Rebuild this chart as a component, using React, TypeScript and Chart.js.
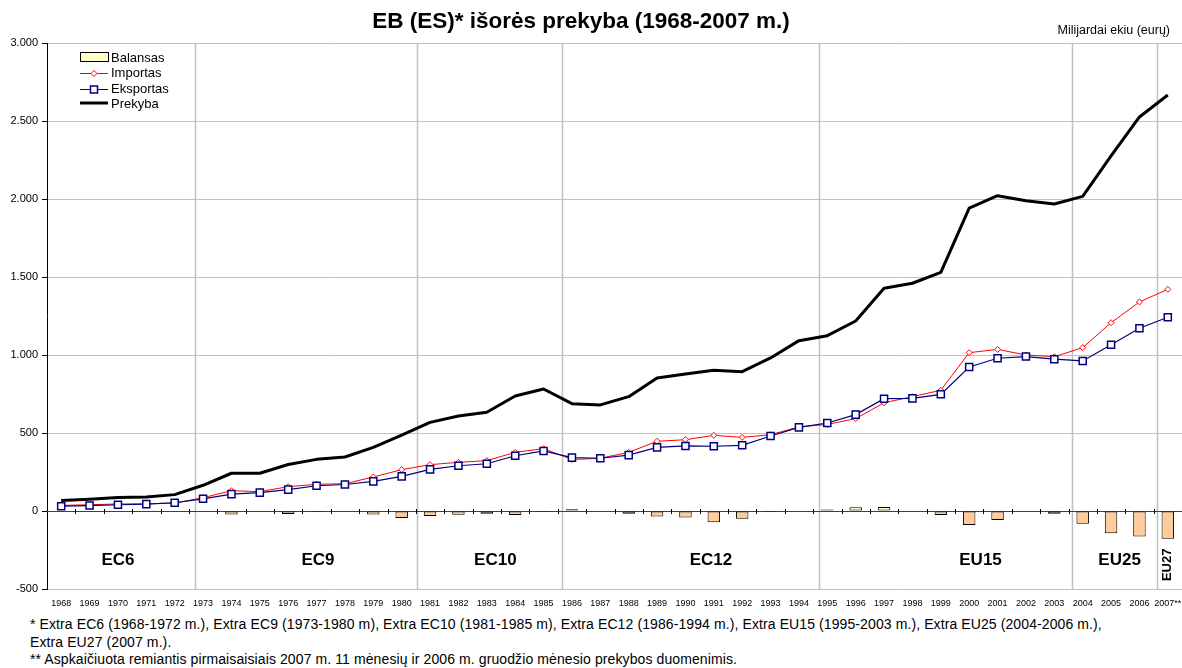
import React, { useEffect, useRef } from "react";
import { Chart, registerables } from "chart.js";

Chart.register(...registerables);

const FONT = 'Arial, "Liberation Sans", sans-serif';

const years = [
  "1968", "1969", "1970", "1971", "1972", "1973", "1974", "1975", "1976", "1977",
  "1978", "1979", "1980", "1981", "1982", "1983", "1984", "1985", "1986", "1987",
  "1988", "1989", "1990", "1991", "1992", "1993", "1994", "1995", "1996", "1997",
  "1998", "1999", "2000", "2001", "2002", "2003", "2004", "2005", "2006", "2007**",
];

const balansas = [
  -3, -3, -4, -3, 4, -5, -22, -5, -20, -6,
  -3, -22, -45, -32, -24, -17, -25, -6, 11, -3,
  -18, -36, -42, -72, -50, -6, -3, 10, 24, 25,
  -5, -26, -90, -58, -4, -18, -81, -143, -163, -178,
];

const importas = [
  36, 40, 45, 46, 51, 85, 130, 124, 156, 171,
  175, 218, 265, 297, 312, 323, 376, 400, 330, 338,
  376, 447, 457, 485, 472, 489, 539, 555, 592, 694,
  733, 774, 1015, 1036, 1000, 989, 1047, 1207, 1340, 1421,
];

const eksportas = [
  31, 35, 40, 44, 53, 78, 108, 118, 137, 162,
  170, 190, 222, 267, 290, 303, 354, 385, 342, 338,
  358, 408, 417, 415, 421, 481, 536, 564, 618, 720,
  722, 748, 923, 979, 990, 973, 962, 1066, 1172, 1242,
];

const prekyba = [
  67, 76, 86, 90, 105, 165, 242, 242, 298, 331,
  346, 408, 487, 568, 609, 633, 737, 782, 688, 680,
  733, 853, 878, 902, 893, 981, 1092, 1124, 1218, 1428,
  1460, 1530, 1942, 2021, 1989, 1968, 2017, 2276, 2526, 2667,
];

// separators between enlargement periods (in category units) and their labels
const periodLinePos = [4.72, 12.54, 17.65, 26.71, 35.62, 38.62];
const periodNames = ["EC6", "EC9", "EC10", "EC12", "EU15", "EU25"];
const periodLabelAnchor = [2, 9.05, 15.3, 22.9, 32.4, 37.3];
const lastPeriodName = "EU27";

const titleText = "EB (ES)* išorės prekyba (1968-2007 m.)";
const unitText = "Milijardai ekiu (eurų)";

function fmt(v: number): string {
  const s = Math.abs(v).toString();
  const withDots = s.replace(/\B(?=(\d{3})+(?!\d))/g, ".");
  return (v < 0 ? "-" : "") + withDots;
}

const decorPlugin = {
  id: "decor",
  beforeDatasetsDraw(chart: any) {
    const { ctx, chartArea } = chart;
    const x = chart.scales.x;
    const y = chart.scales.y;
    const y0 = y.getPixelForValue(0);
    ctx.save();
    ctx.strokeStyle = "#c0c0c0";
    ctx.lineWidth = 1.5;
    periodLinePos.forEach((p) => {
      const px = Math.round(x.getPixelForValue(p)) + 0.5;
      ctx.beginPath();
      ctx.moveTo(px, chartArea.top);
      ctx.lineTo(px, chartArea.bottom);
      ctx.stroke();
    });
    ctx.strokeStyle = "#404040";
    ctx.lineWidth = 1;
    ctx.beginPath();
    ctx.moveTo(chartArea.left, Math.round(y0) + 0.5);
    ctx.lineTo(chartArea.right, Math.round(y0) + 0.5);
    ctx.stroke();
    ctx.strokeStyle = "#000";
    const n = years.length;
    for (let i = 1; i < n; i++) {
      const px = Math.round((x.getPixelForValue(i - 1) + x.getPixelForValue(i)) / 2) + 0.5;
      ctx.beginPath();
      ctx.moveTo(px, y0 - 2);
      ctx.lineTo(px, y0 + 3);
      ctx.stroke();
    }
    ctx.restore();
  },
  afterDraw(chart: any) {
    const { ctx } = chart;
    const x = chart.scales.x;
    const y = chart.scales.y;
    ctx.save();
    ctx.fillStyle = "#000";
    ctx.font = `bold 22.5px ${FONT}`;
    ctx.textAlign = "center";
    ctx.textBaseline = "middle";
    ctx.fillText(titleText, 581, 22);
    ctx.font = `12.5px ${FONT}`;
    ctx.textAlign = "right";
    ctx.fillText(unitText, 1170, 31);
    ctx.font = `bold 17px ${FONT}`;
    ctx.textAlign = "center";
    const ly = y.getPixelForValue(-314);
    periodNames.forEach((nm, i) => {
      ctx.fillText(nm, x.getPixelForValue(periodLabelAnchor[i]), ly);
    });
    ctx.save();
    ctx.translate(x.getPixelForValue(years.length - 1), y.getPixelForValue(-345));
    ctx.rotate(-Math.PI / 2);
    ctx.font = `bold 13px ${FONT}`;
    ctx.fillText(lastPeriodName, 0, 0);
    ctx.restore();

    const lx = 80;
    const tx = 111;
    ctx.font = `13px ${FONT}`;
    ctx.textAlign = "left";
    ctx.textBaseline = "middle";
    ctx.fillStyle = "#FFFFCC";
    ctx.fillRect(lx + 0.5, 52.5, 28, 9);
    ctx.strokeStyle = "#000";
    ctx.lineWidth = 1;
    ctx.strokeRect(lx + 0.5, 52.5, 28, 9);
    ctx.fillStyle = "#000";
    ctx.fillText("Balansas", tx, 58);

    ctx.strokeStyle = "#FF0000";
    ctx.beginPath();
    ctx.moveTo(lx, 73.5);
    ctx.lineTo(lx + 28, 73.5);
    ctx.stroke();
    ctx.fillStyle = "#fff";
    ctx.beginPath();
    ctx.moveTo(lx + 14, 70.5);
    ctx.lineTo(lx + 17, 73.5);
    ctx.lineTo(lx + 14, 76.5);
    ctx.lineTo(lx + 11, 73.5);
    ctx.closePath();
    ctx.fill();
    ctx.stroke();
    ctx.fillStyle = "#000";
    ctx.fillText("Importas", tx, 73);

    ctx.strokeStyle = "#000080";
    ctx.beginPath();
    ctx.moveTo(lx, 89.5);
    ctx.lineTo(lx + 28, 89.5);
    ctx.stroke();
    ctx.fillStyle = "#fff";
    ctx.lineWidth = 1.5;
    ctx.fillRect(lx + 10.5, 86, 7, 7);
    ctx.strokeRect(lx + 10.5, 86, 7, 7);
    ctx.fillStyle = "#000";
    ctx.fillText("Eksportas", tx, 89);

    ctx.strokeStyle = "#000";
    ctx.lineWidth = 3;
    ctx.beginPath();
    ctx.moveTo(lx, 103);
    ctx.lineTo(lx + 28, 103);
    ctx.stroke();
    ctx.fillText("Prekyba", tx, 104);
    ctx.restore();
  },
};

export default function App() {
  const ref = useRef<HTMLCanvasElement | null>(null);

  useEffect(() => {
    if (!ref.current) return;
    const chart = new Chart(ref.current, {
      type: "bar",
      data: {
        labels: years,
        datasets: [
          {
            type: "bar",
            label: "Balansas",
            data: balansas,
            backgroundColor: (c: any) => ((c.raw ?? 0) >= 0 ? "#FFFFCC" : "#FFCC99"),
            borderColor: "#000",
            borderWidth: 1,
            borderSkipped: false,
            barPercentage: 0.44,
            categoryPercentage: 1,
            order: 4,
          } as any,
          {
            type: "line",
            label: "Importas",
            data: importas,
            borderColor: "#FF0000",
            borderWidth: 1,
            pointStyle: "rectRot",
            pointRadius: 3,
            pointBorderWidth: 1,
            pointBackgroundColor: "#fff",
            pointBorderColor: "#FF0000",
            tension: 0,
            fill: false,
            order: 3,
          } as any,
          {
            type: "line",
            label: "Eksportas",
            data: eksportas,
            borderColor: "#000080",
            borderWidth: 1.2,
            pointStyle: "rect",
            pointRadius: 5,
            pointBorderWidth: 1.5,
            pointBackgroundColor: "#fff",
            pointBorderColor: "#000080",
            tension: 0,
            fill: false,
            order: 2,
          } as any,
          {
            type: "line",
            label: "Prekyba",
            data: prekyba,
            borderColor: "#000",
            borderWidth: 3,
            pointRadius: 0,
            borderJoinStyle: "round",
            tension: 0,
            fill: false,
            order: 1,
          } as any,
        ],
      },
      options: {
        animation: false,
        responsive: false,
        maintainAspectRatio: false,
        layout: { autoPadding: false, padding: { top: 43, left: 0, right: 0, bottom: 0 } },
        plugins: {
          legend: { display: false },
          title: { display: false },
          tooltip: { enabled: false },
        },
        scales: {
          x: {
            offset: true,
            grid: { display: false, drawTicks: true, tickLength: 9 },
            border: { display: false },
            ticks: {
              autoSkip: false,
              maxRotation: 0,
              minRotation: 0,
              padding: 0,
              color: "#000",
              font: { family: FONT, size: 9 },
            },
            afterFit: (s: any) => {
              s.height = 25;
              s.paddingLeft = 0;
              s.paddingRight = 0;
            },
          },
          y: {
            min: -500,
            max: 3000,
            ticks: {
              stepSize: 500,
              padding: 4,
              color: "#000",
              font: { family: FONT, size: 11 },
              callback: (v: any) => fmt(Number(v)),
            },
            grid: {
              color: (c: any) => (c.tick && c.tick.value === 0 ? "#404040" : "#c0c0c0"),
              tickColor: "#000",
              tickLength: 5,
              lineWidth: 1,
            },
            border: { display: true, color: "#000", width: 1 },
            afterFit: (s: any) => {
              s.width = 47;
              s.paddingTop = 0;
              s.paddingBottom = 0;
            },
          },
        },
      },
      plugins: [decorPlugin],
    } as any);
    return () => chart.destroy();
  }, []);

  return (
    <div
      style={{
        position: "absolute",
        left: 0,
        top: 0,
        width: 1182,
        height: 668,
        background: "#fff",
        overflow: "hidden",
      }}
    >
      <canvas ref={ref} width={1182} height={614} style={{ display: "block", width: 1182, height: 614 }} />
      <div
        style={{
          position: "absolute",
          left: 30,
          top: 616,
          fontFamily: FONT,
          fontSize: 14,
          letterSpacing: "0.1px",
          lineHeight: "17.5px",
          color: "#000",
          whiteSpace: "nowrap",
        }}
      >
        * Extra EC6 (1968-1972 m.), Extra EC9 (1973-1980 m), Extra EC10 (1981-1985 m), Extra EC12 (1986-1994 m.), Extra
        EU15 (1995-2003 m.), Extra EU25 (2004-2006 m.),
        <br />
        Extra EU27 (2007 m.).
        <br />
        ** Aspkaičiuota remiantis pirmaisaisiais 2007 m. 11 mėnesių ir 2006 m. gruodžio mėnesio prekybos duomenimis.
      </div>
    </div>
  );
}
